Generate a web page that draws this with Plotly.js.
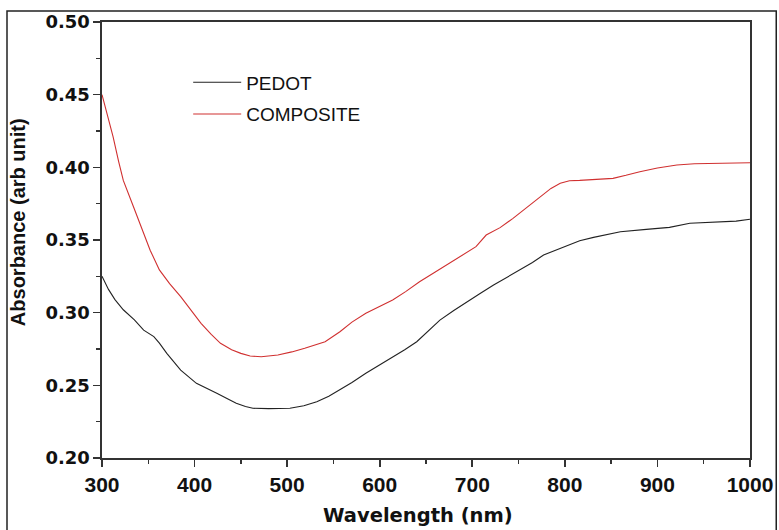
<!DOCTYPE html>
<html>
<head>
<meta charset="utf-8">
<script src="https://cdn.plot.ly/plotly-3.0.1.min.js"></script>
<style>html,body{margin:0;padding:0;background:#fff;}#chart{width:779px;height:530px;}</style>
</head>
<body>
<div id="chart"></div>
<script>
// Wavelength (nm) and absorbance values
const pedotX = [300,307,314,323,335,345,356,362,370,385,402,412,424,435,445,455,463,480,503,518,532,545,557,570,585,600,614,627,640,652,665,680,694,708,723,737,752,765,777,792,806,816,831,838,860,888,913,935,950,971,985,1000];
const pedotY = [0.325,0.316,0.309,0.302,0.295,0.288,0.2835,0.279,0.272,0.2605,0.2514,0.248,0.2445,0.241,0.2376,0.2355,0.2342,0.234,0.2342,0.236,0.2387,0.2425,0.2468,0.252,0.2583,0.264,0.2697,0.2745,0.28,0.287,0.2949,0.3015,0.3075,0.313,0.319,0.324,0.3293,0.3345,0.3397,0.3435,0.3466,0.3495,0.3518,0.3527,0.3557,0.3573,0.3587,0.3615,0.362,0.3622,0.363,0.3643];

const compX = [300,305,312,318,323,334,345,352,362,373,385,396,407,418,428,440,450,460,472,490,505,519,530,541,557,570,585,600,614,628,643,660,675,690,704,715,730,744,758,773,785,795,805,816,838,852,866,881,900,921,940,961,980,1000];
const compY = [0.45,0.438,0.421,0.404,0.391,0.3729,0.3546,0.343,0.3294,0.32,0.311,0.302,0.2927,0.285,0.2789,0.2745,0.272,0.2702,0.2697,0.2709,0.273,0.2755,0.2775,0.28,0.2869,0.2935,0.2996,0.3045,0.3087,0.3145,0.3213,0.328,0.3339,0.3395,0.3454,0.3534,0.3585,0.3649,0.372,0.3798,0.3855,0.389,0.3908,0.391,0.3918,0.3924,0.3945,0.397,0.3995,0.4016,0.4025,0.4028,0.403,0.4032];

const seriesNames = ['PEDOT', 'COMPOSITE'];
const xTickVals = [300,400,500,600,700,800,900,1000];
const yTickVals = [0.20,0.25,0.30,0.35,0.40,0.45,0.50];

const traces = [
  {x: pedotX, y: pedotY, name: seriesNames[0], type: 'scatter', mode: 'lines',
   line: {color: '#222222', width: 1.1}, legendgroup: 'a'},
  {x: compX, y: compY, name: seriesNames[1], type: 'scatter', mode: 'lines',
   line: {color: '#d03030', width: 1.1}, legendgroup: 'b'}
];

const axisCommon = {
  showgrid: false, zeroline: false, showline: true, linecolor: '#333333', linewidth: 1.6,
  mirror: true, ticks: 'outside', tickcolor: '#333333', tickwidth: 1.6, ticklen: 7
};

const layout = {
  width: 779, height: 530,
  margin: {l: 102, r: 29, t: 22, b: 72},
  paper_bgcolor: '#ffffff', plot_bgcolor: '#ffffff',
  showlegend: true,
  legend: {x: 0.133, y: 0.905, xanchor: 'left', yanchor: 'top', bgcolor: 'rgba(0,0,0,0)',
           borderwidth: 0, itemwidth: 48, tracegroupgap: 4,
           font: {family: 'Liberation Sans, Arial, sans-serif', size: 19, color: '#111111'}},
  xaxis: Object.assign({}, axisCommon, {
    range: [300, 1000], tickvals: xTickVals, ticktext: xTickVals.map(String),
    tickfont: {family: 'Liberation Sans, Arial, sans-serif', size: 21, weight: 'bold', color: '#111111'},
    minor: {dtick: 50, tick0: 300, ticks: 'outside', ticklen: 4, tickcolor: '#333333', tickwidth: 1.4}
  }),
  yaxis: Object.assign({}, axisCommon, {
    range: [0.20, 0.50], tickvals: yTickVals, ticktext: yTickVals.map(v => v.toFixed(2)),
    tickfont: {family: 'DejaVu Sans, sans-serif', size: 18, weight: 'bold', color: '#111111'},
    minor: {dtick: 0.025, tick0: 0.2, ticks: 'outside', ticklen: 4, tickcolor: '#333333', tickwidth: 1.4}
  }),
  annotations: [
    {text: 'Wavelength (nm)', xref: 'paper', yref: 'paper', x: 0.487, y: -0.132,
     xanchor: 'center', yanchor: 'middle', showarrow: false,
     font: {family: 'DejaVu Sans, sans-serif', size: 19.5, weight: 'bold', color: '#111111'}},
    {text: 'Absorbance (arb unit)', xref: 'paper', yref: 'paper', x: -0.1296, y: 0.541,
     xanchor: 'center', yanchor: 'middle', showarrow: false, textangle: -90,
     font: {family: 'Liberation Sans, Arial, sans-serif', size: 20, weight: 'bold', color: '#111111'}}
  ],
  shapes: [
    {type: 'rect', xref: 'paper', yref: 'paper', x0: -0.1466, x1: 1.0405, y0: -0.17, y1: 1.0252,
     line: {color: '#222222', width: 1.5}, fillcolor: 'rgba(0,0,0,0)', layer: 'above'}
  ]
};

Plotly.newPlot('chart', traces, layout, {displayModeBar: false, staticPlot: true});
</script>
</body>
</html>
